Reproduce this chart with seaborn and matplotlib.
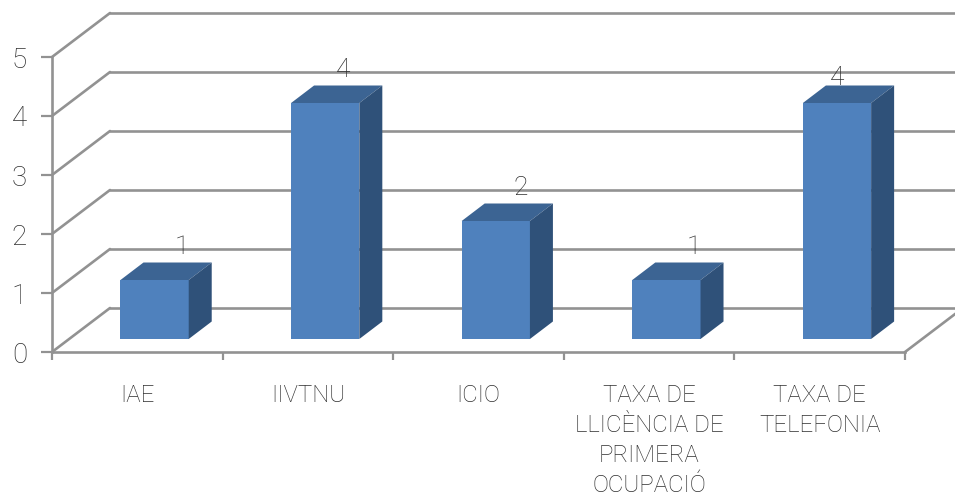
import matplotlib
matplotlib.use('Agg')
import matplotlib.pyplot as plt
import numpy as np
import pandas as pd
import seaborn as sns
from matplotlib.patches import Polygon

categories = ['IAE', 'IIVTNU', 'ICIO', 'TAXA DE\nLLICÈNCIA DE\nPRIMERA\nOCUPACIÓ', 'TAXA DE\nTELEFONIA']
values = [1, 4, 2, 1, 4]
y_ticks = [0, 1, 2, 3, 4, 5]

W, H = 955, 498
left, right, y0, y5 = 52, 905, 352, 57
unit_x = (right - left) / 5
unit_y = (y0 - y5) / 5

# depth of the fake 3d box, in data units
wall_dx = 58 / unit_x
wall_dy = 44 / unit_y
bar_shift_x = 17.3 / unit_x
bar_shift_y = 13 / unit_y
bar_dx = 23 / unit_x
bar_dy = 17.5 / unit_y
# the value labels are not placed evenly in the original
label_dx = [27, 18, 25, 27, 0]
label_dy = [33, 33, 33, 33, 25]

line_col = '#929292'
text_col = '#2e2e2e'

sns.set_style('white')
plt.rcParams['font.family'] = ['Roboto', 'DejaVu Sans']

fig = plt.figure(figsize=(W / 100, H / 100), dpi=100)
ax = fig.add_axes([left / W, 1 - y0 / H, (right - left) / W, (y0 - y5) / H])

df = pd.DataFrame({'cat': categories, 'val': values})
sns.barplot(ax=ax, data=df, x='cat', y='val', color='#4f81bd', saturation=1, width=0.4, linewidth=0, zorder=5)

ax.set_xlim(-0.5, 4.5)
ax.set_ylim(0, 5)

# walls
for v in y_ticks:
    ax.plot([-0.5, -0.5 + wall_dx], [v, v + wall_dy], color=line_col, lw=1.9, clip_on=False, zorder=1)
    ax.plot([-0.5 + wall_dx, 4.5 + wall_dx], [v + wall_dy, v + wall_dy], color=line_col, lw=1.9, clip_on=False, zorder=1)
ax.plot([4.5, 4.5 + wall_dx], [0, wall_dy], color=line_col, lw=1.9, clip_on=False, zorder=1)

# move the bars onto the floor and add top and side faces
for i, bar in enumerate(ax.patches):
    bar.set_x(bar.get_x() + bar_shift_x)
    bar.set_y(bar_shift_y)
    x0 = bar.get_x()
    x1 = x0 + bar.get_width()
    b = bar_shift_y
    t = b + bar.get_height()
    ax.add_patch(Polygon([(x0, t), (x1, t), (x1 + bar_dx, t + bar_dy), (x0 + bar_dx, t + bar_dy)],
                         closed=True, fc='#3c6493', ec='none', clip_on=False, zorder=5))
    ax.add_patch(Polygon([(x1, b), (x1 + bar_dx, b + bar_dy), (x1 + bar_dx, t + bar_dy), (x1, t)],
                         closed=True, fc='#2f5179', ec='none', clip_on=False, zorder=5))
    ax.text(x0 + bar.get_width() / 2 + label_dx[i] / unit_x, t + label_dy[i] / unit_y, str(values[i]),
            ha='center', va='center', fontsize=19, fontweight='light', color=text_col, zorder=6)

ax.set_xlabel('')
ax.set_ylabel('')
ax.set_yticks(y_ticks)
ax.set_xticks(np.arange(-0.5, 5, 1), minor=True)
ax.set_xticks(range(len(categories)))
ax.set_xticklabels(categories, fontsize=17.3, fontweight='light', color=text_col, linespacing=1.39)
ax.tick_params(axis='x', which='major', length=0, pad=23)
ax.tick_params(axis='x', which='minor', length=6, width=1.6, color=line_col, bottom=True)
ax.tick_params(axis='y', length=8, width=1.6, color=line_col, left=True, pad=10, labelsize=20, labelcolor=text_col)
for lab in ax.get_yticklabels():
    lab.set_fontweight('light')

sns.despine(ax=ax, top=True, right=True)
for side in ['left', 'bottom']:
    ax.spines[side].set_color(line_col)
    ax.spines[side].set_linewidth(1.9)
    ax.spines[side].set_zorder(2)
ax.patch.set_alpha(0)

plt.savefig('out.png', dpi=100)
